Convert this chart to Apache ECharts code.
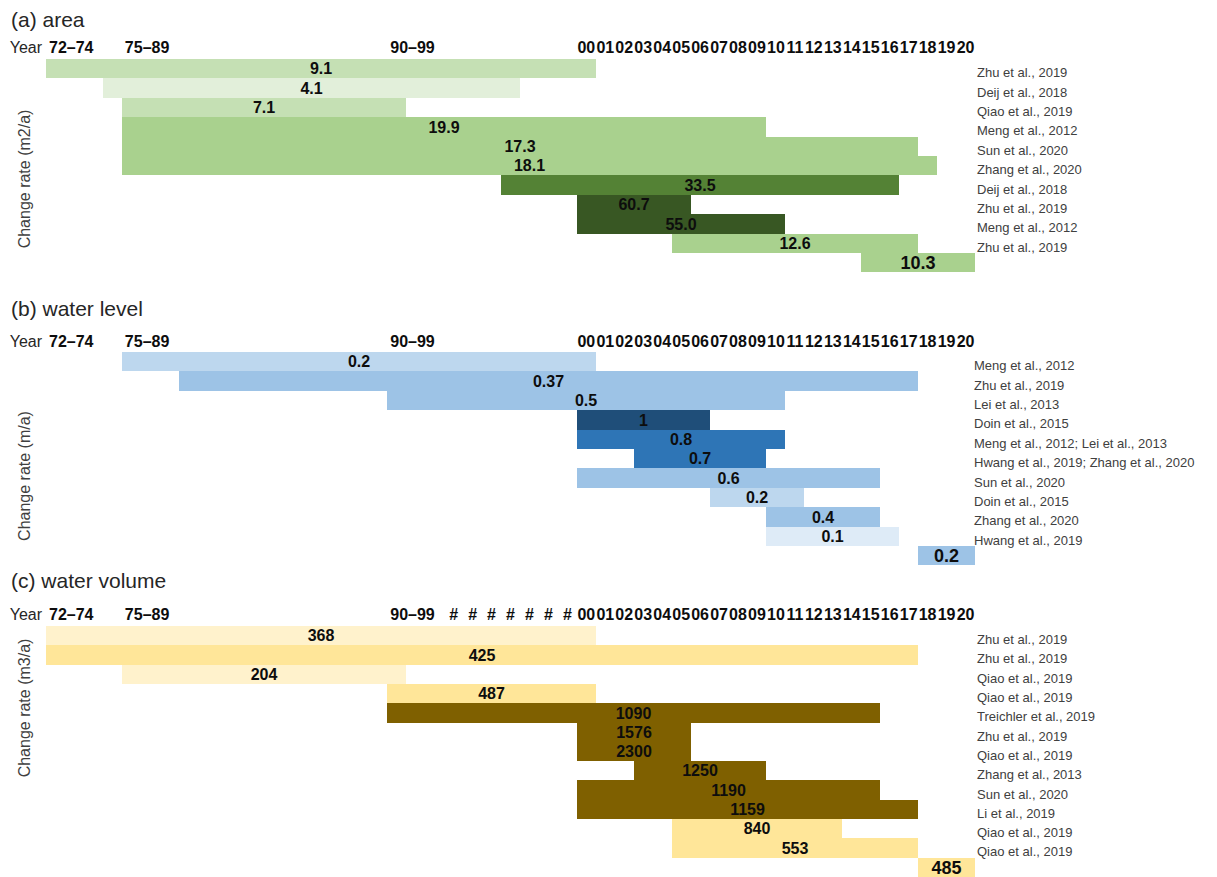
<!DOCTYPE html>
<html>
<head>
<meta charset="utf-8">
<title>Lake change rates</title>
<script src="https://cdn.jsdelivr.net/npm/echarts@6/dist/echarts.min.js"></script>
<style>
  html, body { margin: 0; padding: 0; background: #fff; }
  #chart { width: 1217px; height: 877px; }
</style>
</head>
<body>
<div id="chart"></div>
<script>
"use strict"

// 表头刻度
const rangeTicks = [[1972, "72–74"], [1976, "75–89"], [1990, "90–99"]];
const yearTicks = ["00", "01", "02", "03", "04", "05", "06", "07", "08", "09", "10",
    "11", "12", "13", "14", "15", "16", "17", "18", "19", "20"];
const hashYears = [1993, 1994, 1995, 1996, 1997, 1998, 1999];

// (a) area  —— 起止年份（含）、变化率、文献
const areaStart = [1972, 1975, 1976, 1976, 1976, 1976, 1996, 2000, 2000, 2005, 2015];
const areaEnd = [2000, 1996, 1990, 2009, 2017, 2018, 2016, 2005, 2010, 2017, 2020];
const areaRate = [9.1, 4.1, 7.1, 19.9, 17.3, 18.1, 33.5, 60.7, 55.0, 12.6, 10.3];
const areaRefs = ["Zhu et al., 2019", "Deij et al., 2018", "Qiao et al., 2019", "Meng et al., 2012",
    "Sun et al., 2020", "Zhang et al., 2020", "Deij et al., 2018", "Zhu et al., 2019",
    "Meng et al., 2012", "Zhu et al., 2019", ""];

// (b) water level
const levelStart = [1976, 1979, 1990, 2000, 2000, 2003, 2000, 2007, 2010, 2010, 2018];
const levelEnd = [2000, 2017, 2010, 2006, 2010, 2009, 2015, 2011, 2015, 2016, 2020];
const levelRate = [0.2, 0.37, 0.5, 1, 0.8, 0.7, 0.6, 0.2, 0.4, 0.1, 0.2];
const levelRefs = ["Meng et al., 2012", "Zhu et al., 2019", "Lei et al., 2013", "Doin et al., 2015",
    "Meng et al., 2012; Lei et al., 2013", "Hwang et al., 2019; Zhang et al., 2020",
    "Sun et al., 2020", "Doin et al., 2015", "Zhang et al., 2020", "Hwang et al., 2019", ""];

// (c) water volume
const volStart = [1972, 1972, 1976, 1990, 1990, 2000, 2000, 2003, 2000, 2000, 2005, 2005, 2018];
const volEnd = [2000, 2017, 1990, 2000, 2015, 2005, 2005, 2009, 2015, 2017, 2013, 2017, 2020];
const volRate = [368, 425, 204, 487, 1090, 1576, 2300, 1250, 1190, 1159, 840, 553, 485];
const volRefs = ["Zhu et al., 2019", "Zhu et al., 2019", "Qiao et al., 2019", "Qiao et al., 2019",
    "Treichler et al., 2019", "Zhu et al., 2019", "Qiao et al., 2019", "Zhang et al., 2013",
    "Sun et al., 2020", "Li et al., 2019", "Qiao et al., 2019", "Qiao et al., 2019", ""];

// 配色（每根条一个）
const areaColors = ["#C5E0B4", "#E2EFDA", "#C5E0B4", "#A9D18E", "#A9D18E", "#A9D18E",
    "#548235", "#385723", "#385723", "#A9D18E", "#A9D18E"];
const levelColors = ["#BDD7EE", "#9DC3E6", "#9DC3E6", "#1F4E79", "#2E75B6", "#2E75B6",
    "#9DC3E6", "#BDD7EE", "#9DC3E6", "#DEEBF7", "#9DC3E6"];
const volColors = ["#FFF2CC", "#FFE699", "#FFF2CC", "#FFE699", "#7F6000", "#7F6000",
    "#7F6000", "#7F6000", "#7F6000", "#7F6000", "#FFE699", "#FFE699", "#FFE699"];

const FONT = '"Liberation Sans", Arial, sans-serif';

let myChart = echarts.init(document.getElementById("chart"), null, { renderer: "svg" });

function headerFormatter(hashes) {
    return function (v) {
        v = Math.round(v);
        for (let i = 0; i < rangeTicks.length; i++) {
            if (rangeTicks[i][0] === v) return "{r|" + rangeTicks[i][1] + "}";
        }
        if (v >= 2000 && v <= 2020) return "{y|" + yearTicks[v - 2000] + "}";
        if (hashes.indexOf(v) >= 0) return "{y|#}";
        return "";
    };
}

function barRenderer(count, fmt) {
    return function (params, api) {
        let a = api.coord([api.value(0), api.value(2)]);
        let b = api.coord([api.value(1), api.value(2)]);
        let h = api.size([0, 1])[1];
        let x0 = Math.round(a[0]), x1 = Math.round(b[0]);
        let y0 = Math.round(a[1] - h / 2), y1 = Math.round(a[1] + h / 2);
        let last = params.dataIndex === count - 1;
        return {
            type: "rect",
            shape: { x: x0, y: y0, width: x1 - x0, height: y1 - y0 },
            style: { fill: api.visual("color") },
            textContent: {
                style: {
                    text: fmt(api.value(3)),
                    fill: "#0d0d0d",
                    fontSize: last ? 18 : 16,
                    fontWeight: "bold",
                    fontFamily: FONT
                }
            },
            textConfig: { position: "inside" }
        };
    };
}

let panels = [
    { start: areaStart, end: areaEnd, rate: areaRate, refs: areaRefs, colors: areaColors,
      top: 59, rowH: 19.4, header: 47, hashes: [], refMargin: 2, fmt: v => v.toFixed(1) },
    { start: levelStart, end: levelEnd, rate: levelRate, refs: levelRefs, colors: levelColors,
      top: 352, rowH: 19.4, header: 341, hashes: [], refMargin: -1, fmt: v => String(v) },
    { start: volStart, end: volEnd, rate: volRate, refs: volRefs, colors: volColors,
      top: 626, rowH: 19.3, header: 614, hashes: hashYears, refMargin: 2, fmt: v => String(v) }
];

let grids = [], xAxes = [], yAxes = [], series = [];
panels.forEach(function (p, i) {
    let n = p.start.length;
    grids.push({
        left: 46, width: 929, top: p.top, height: n * p.rowH,
        containLabel: false, outerBoundsMode: "none"
    });
    xAxes.push({
        gridIndex: i,
        type: "value",
        min: 1972,
        max: 2021,
        interval: 1,
        position: "top",
        offset: p.top - p.header,
        axisLine: { show: false },
        axisTick: { show: false },
        splitLine: { show: false },
        name: "Year",
        nameLocation: "start",
        nameGap: 4,
        nameMoveOverlap: false,
        nameTextStyle: { fontSize: 16, color: "#262626", fontFamily: FONT, verticalAlign: "middle", align: "right" },
        axisLabel: {
            margin: 0,
            align: "left",
            verticalAlign: "middle",
            showMinLabel: true,
            showMaxLabel: true,
            formatter: headerFormatter(p.hashes),
            rich: {
                r: { fontSize: 16, fontWeight: "bold", color: "#0d0d0d", fontFamily: FONT, padding: [0, 0, 0, 3] },
                y: { fontSize: 16, fontWeight: "bold", color: "#0d0d0d", fontFamily: FONT, width: 19, align: "center" }
            }
        }
    });
    yAxes.push({
        gridIndex: i,
        type: "category",
        inverse: true,
        position: "right",
        data: p.refs,
        axisLine: { show: false },
        axisTick: { show: false },
        splitLine: { show: false },
        axisLabel: {
            interval: 0,
            margin: p.refMargin,
            align: "left",
            verticalAlign: "top",
            lineHeight: 8,
            fontSize: 13,
            color: "#404040",
            fontFamily: FONT
        }
    });
    series.push({
        type: "custom",
        xAxisIndex: i,
        yAxisIndex: i,
        silent: true,
        encode: { x: [0, 1], y: 2 },
        renderItem: barRenderer(n, p.fmt),
        data: p.start.map((s, k) => ({
            value: [s, p.end[k] + 1, k, p.rate[k]],
            itemStyle: { color: p.colors[k] }
        }))
    });
});

function panelTitle(text, top) {
    return {
        text: text, left: 6, top: top,
        textStyle: { fontSize: 21, fontWeight: "normal", color: "#262626", fontFamily: FONT }
    };
}

function yName(text, cy) {
    return {
        type: "text", x: 24, y: cy, rotation: Math.PI / 2,
        style: { text: text, fontSize: 16, fill: "#404040", fontFamily: FONT, align: "center", verticalAlign: "middle" }
    };
}

let option = {
    animation: false,
    backgroundColor: "#fff",
    title: [panelTitle("(a) area", 4), panelTitle("(b) water level", 293), panelTitle("(c) water volume", 565)],
    grid: grids,
    xAxis: xAxes,
    yAxis: yAxes,
    series: series,
    graphic: [
        yName("Change rate (m2/a)", 179),
        yName("Change rate (m/a)", 476),
        yName("Change rate (m3/a)", 708)
    ]
};
myChart.setOption(option);
</script>
</body>
</html>
